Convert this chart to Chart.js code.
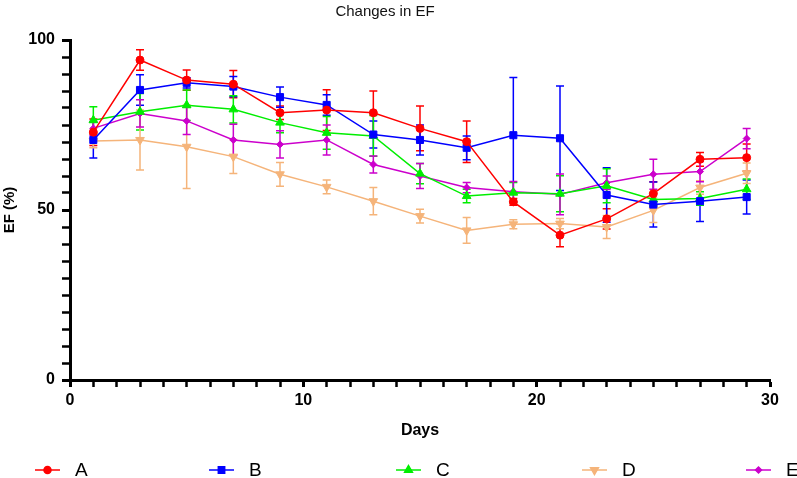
<!DOCTYPE html>
<html>
<head>
<meta charset="utf-8">
<title>Changes in EF</title>
<script src="https://cdn.jsdelivr.net/npm/chart.js@4.4.1/dist/chart.umd.min.js"></script>
<style>
  html, body { margin: 0; padding: 0; background: #fff; }
  #wrap { width: 797px; height: 478px; }
</style>
</head>
<body>
<div id="wrap"><canvas id="efChart" width="797" height="478"></canvas></div>
<script>
// --- data ---
const days = [1, 3, 5, 7, 9, 11, 13, 15, 17, 19, 21, 23, 25, 27, 29];
const seriesNames = ['A', 'B', 'C', 'D', 'E'];

const efA = [72.9, 94.1, 88.2, 87.0, 78.6, 79.4, 78.6, 74.0, 70.1, 52.4, 42.6, 47.4, 54.8, 64.9, 65.4];
const efB = [70.6, 85.3, 87.4, 86.3, 83.2, 80.9, 72.2, 70.6, 68.3, 72.0, 71.1, 54.4, 51.6, 52.6, 53.8];
const efC = [76.4, 78.9, 80.8, 79.6, 75.7, 72.7, 71.8, 60.7, 54.1, 55.1, 54.8, 57.1, 53.1, 53.4, 56.1];
const efD = [70.3, 70.6, 68.6, 65.7, 60.5, 56.8, 52.6, 48.2, 44.0, 45.8, 46.0, 45.0, 49.9, 56.6, 60.8];
const efE = [74.0, 78.4, 76.2, 70.6, 69.3, 70.6, 63.4, 60.0, 56.6, 55.4, 54.6, 58.0, 60.5, 61.3, 71.0];

// error bar half-lengths (same order)
const errA = [3.9, 3.0, 3.0, 4.0, 2.0, 6.0, 6.4, 6.6, 6.1, 1.0, 3.4, 3.0, 3.5, 2.0, 4.0];
const errB = [5.3, 4.5, 1.5, 3.0, 3.0, 3.0, 4.0, 4.4, 3.5, 17.0, 15.4, 8.0, 6.6, 6.0, 5.0];
const errC = [4.0, 5.4, 4.5, 4.0, 3.0, 4.8, 6.0, 3.0, 2.0, 3.0, 5.3, 5.0, 2.0, 2.0, 3.0];
const errD = [2.0, 8.8, 12.3, 5.0, 3.5, 2.0, 4.0, 2.0, 3.8, 1.3, 1.5, 3.4, 3.6, 2.0, 3.0];
const errE = [2.0, 4.0, 4.0, 4.6, 4.0, 4.4, 2.5, 3.7, 1.5, 3.0, 6.0, 2.0, 4.4, 3.0, 3.0];

const xTickLabels = [0, 10, 20, 30];
const yTickLabels = [0, 50, 100];

const colors = ['#FF0000', '#0000FF', '#00EE00', '#F5B47A', '#CC00CC'];
const markers = [
    { style: 'circle', radius: 4, rotation: 0 },
    { style: 'rect', radius: 5, rotation: 0 },
    { style: 'triangle', radius: 5, rotation: 0 },
    { style: 'triangle', radius: 5, rotation: 180 },
    { style: 'rectRot', radius: 3.5, rotation: 0 }
];

const values = [efA, efB, efC, efD, efE];
const errors = [errA, errB, errC, errD, errE];

function toPoints(arr) {
    return days.map((d, i) => ({ x: d, y: arr[i] }));
}

const datasets = seriesNames.map((name, k) => ({
    label: name,
    data: toPoints(values[k]),
    borderColor: colors[k],
    backgroundColor: colors[k],
    borderWidth: 1.5,
    pointStyle: markers[k].style,
    pointRadius: markers[k].radius,
    pointRotation: markers[k].rotation,
    pointBorderWidth: 1,
    tension: 0,
    fill: false
}));

// error bars drawn from the scales, under the markers
const errorBars = {
    id: 'errorBars',
    beforeDatasetsDraw(chart) {
        const ctx = chart.ctx;
        const xs = chart.scales.x, ys = chart.scales.y;
        ctx.save();
        errors.forEach((errs, k) => {
            ctx.strokeStyle = colors[k];
            ctx.lineWidth = 1.5;
            days.forEach((d, i) => {
                const px = xs.getPixelForValue(d);
                const top = ys.getPixelForValue(values[k][i] + errs[i]);
                const bot = ys.getPixelForValue(values[k][i] - errs[i]);
                ctx.beginPath();
                ctx.moveTo(px, top); ctx.lineTo(px, bot);
                ctx.moveTo(px - 4, top); ctx.lineTo(px + 4, top);
                ctx.moveTo(px - 4, bot); ctx.lineTo(px + 4, bot);
                ctx.stroke();
            });
        });
        ctx.restore();
    }
};

// legend at the bottom: line + marker + letter
const legendStarts = [35, 209, 396, 582, 746];
const bottomLegend = {
    id: 'bottomLegend',
    afterDraw(chart) {
        const ctx = chart.ctx;
        const y = 470;
        ctx.save();
        chart.data.datasets.forEach((ds, k) => {
            const x0 = legendStarts[k];
            ctx.strokeStyle = colors[k];
            ctx.fillStyle = colors[k];
            ctx.lineWidth = 1.5;
            ctx.beginPath();
            ctx.moveTo(x0, y); ctx.lineTo(x0 + 25, y);
            ctx.stroke();
            Chart.helpers.drawPoint(ctx, {
                pointStyle: markers[k].style,
                radius: markers[k].radius - 0.5,
                rotation: markers[k].rotation,
                borderWidth: 1
            }, x0 + 12.5, y);
            ctx.fillStyle = '#000';
            ctx.font = '19px "Liberation Sans Narrow", "Liberation Sans", Arial, sans-serif';
            ctx.textBaseline = 'middle';
            ctx.textAlign = 'left';
            ctx.fillText(ds.label, x0 + 40, y + 1);
        });
        ctx.restore();
    }
};

new Chart(document.getElementById('efChart').getContext('2d'), {
    type: 'line',
    data: { datasets: datasets },
    options: {
        responsive: false,
        animation: false,
        layout: { padding: { top: 0, right: 27, bottom: 38, left: 0 } },
        plugins: {
            legend: { display: false },
            tooltip: { enabled: false },
            title: {
                display: true,
                text: 'Changes in EF',
                color: '#111',
                font: { family: '"Liberation Sans", Arial, sans-serif', size: 15, weight: 'normal', lineHeight: 1.2 },
                padding: { top: 3, bottom: 19 }
            }
        },
        scales: {
            x: {
                type: 'linear',
                min: 0,
                max: 30,
                afterFit: s => { s.height = 60; },
                border: { display: true, color: '#000', width: 3 },
                grid: {
                    drawOnChartArea: false,
                    drawTicks: true,
                    tickLength: 7,
                    tickColor: '#000',
                    tickWidth: c => (c.tick && xTickLabels.includes(c.tick.value)) ? 3 : 2.5
                },
                ticks: {
                    stepSize: 1,
                    autoSkip: false,
                    maxRotation: 0,
                    padding: 4,
                    color: '#000',
                    font: { family: '"Liberation Sans", Arial, sans-serif', size: 16, weight: 'bold' },
                    callback: v => xTickLabels.includes(v) ? v : ''
                },
                title: {
                    display: true,
                    text: 'Days',
                    color: '#000',
                    font: { family: '"Liberation Sans", Arial, sans-serif', size: 16, weight: 'bold', lineHeight: 1.2 },
                    padding: { top: 0, bottom: 0 }
                }
            },
            y: {
                type: 'linear',
                min: 0,
                max: 100,
                afterFit: s => { s.width = 70; },
                border: { display: true, color: '#000', width: 3 },
                grid: {
                    drawOnChartArea: false,
                    drawTicks: true,
                    tickLength: 8,
                    tickColor: '#000',
                    tickWidth: c => (c.tick && yTickLabels.includes(c.tick.value)) ? 3 : 2.5
                },
                ticks: {
                    stepSize: 5,
                    autoSkip: false,
                    padding: 7,
                    color: '#000',
                    font: { family: '"Liberation Sans", Arial, sans-serif', size: 16, weight: 'bold' },
                    callback: v => yTickLabels.includes(v) ? v : ''
                },
                title: {
                    display: true,
                    text: 'EF (%)',
                    color: '#000',
                    font: { family: '"Liberation Sans", Arial, sans-serif', size: 15, weight: 'bold', lineHeight: 1.2 },
                    padding: { top: 1, bottom: 0 }
                }
            }
        }
    },
    plugins: [errorBars, bottomLegend]
});
</script>
</body>
</html>
